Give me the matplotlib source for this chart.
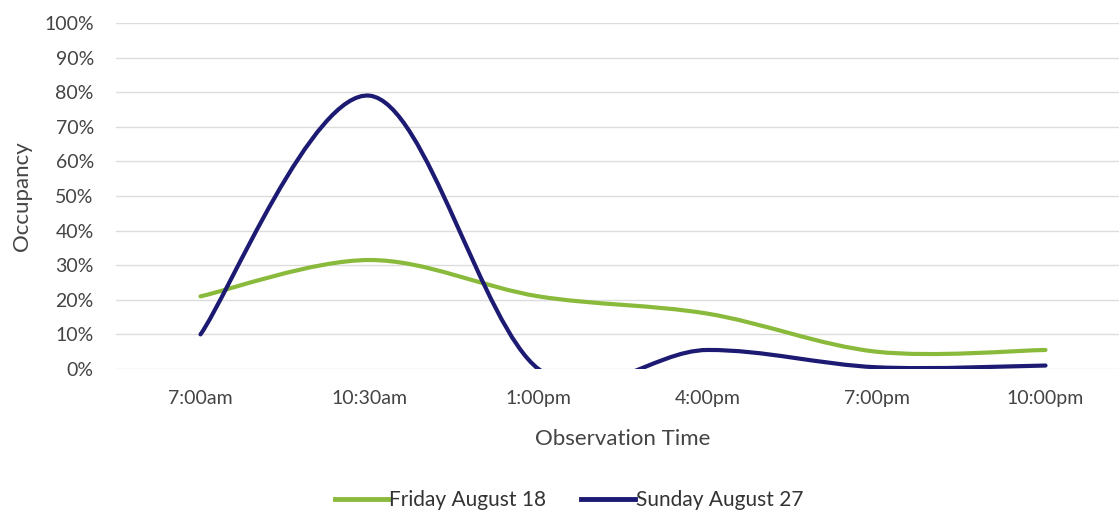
import matplotlib
matplotlib.use("Agg")
import matplotlib.pyplot as plt
from matplotlib.path import Path
from matplotlib.patches import PathPatch
from matplotlib.lines import Line2D
from matplotlib.ticker import PercentFormatter
import numpy as np

times = ["7:00am", "10:30am", "1:00pm", "4:00pm", "7:00pm", "10:00pm"]
friday = [0.21, 0.315, 0.21, 0.16, 0.05, 0.055]
sunday = [0.10, 0.79, 0.0, 0.055, 0.005, 0.01]

series_names = ["Friday August 18", "Sunday August 27"]
colors = ["#8aba3c", "#1c1a72"]

plt.rcParams['font.family'] = ['Lato', 'DejaVu Sans']


def smooth_path(xs, ys):
    # Excel-style smoothed line: cubic bezier with catmull-rom control points
    pts = np.column_stack([xs, ys]).astype(float)
    n = len(pts)
    verts = [pts[0]]
    codes = [Path.MOVETO]
    for i in range(n - 1):
        p0 = pts[i - 1] if i > 0 else pts[i]
        p1 = pts[i]
        p2 = pts[i + 1]
        p3 = pts[i + 2] if i + 2 < n else pts[i + 1]
        c1 = p1 + (p2 - p0) / 6.0
        c2 = p2 - (p3 - p1) / 6.0
        verts += [c1, c2, p2]
        codes += [Path.CURVE4] * 3
    return Path(verts, codes)


fig = plt.figure(figsize=(11.19, 5.14), dpi=100)
ax = fig.add_axes([116 / 1119, 1 - 369 / 514, (1130 - 116) / 1119, 346 / 514])

x = np.arange(len(times))
for vals, c in zip([friday, sunday], colors):
    patch = PathPatch(smooth_path(x, vals), facecolor='none', edgecolor=c,
                      lw=3.0, capstyle='round', joinstyle='round')
    ax.add_patch(patch)

ax.set_xlim(-0.5, len(times) - 0.5)
ax.set_ylim(0, 1.0)
ax.set_yticks(np.arange(0, 1.01, 0.1))
ax.yaxis.set_major_formatter(PercentFormatter(1.0, decimals=0))
ax.set_xticks(x)
ax.set_xticklabels(times)

ax.grid(axis='y', color='#dcdcdc', lw=1.0)
ax.set_axisbelow(True)
for s in ax.spines.values():
    s.set_visible(False)
ax.tick_params(length=0, labelsize=14, labelcolor='#444444')
ax.tick_params(axis='x', pad=15)
ax.tick_params(axis='y', pad=16)

ax.set_ylabel('Occupancy', fontsize=16, color='#444444')
ax.yaxis.set_label_coords(-84 / 1014, 0.5)
ax.set_xlabel('Observation Time', fontsize=16, color='#444444')
ax.xaxis.set_label_coords((623 - 116) / (1130 - 116), -0.172)

handles = [Line2D([], [], color=c, lw=3.5) for c in colors]
fig.legend(handles, series_names, loc='center', bbox_to_anchor=(569 / 1119, 1 - 500 / 514),
           ncol=2, frameon=False, fontsize=15, handlelength=2.55, handletextpad=0.05,
           columnspacing=1.7, labelcolor='#333333')

fig.savefig('out.png', dpi=100)
